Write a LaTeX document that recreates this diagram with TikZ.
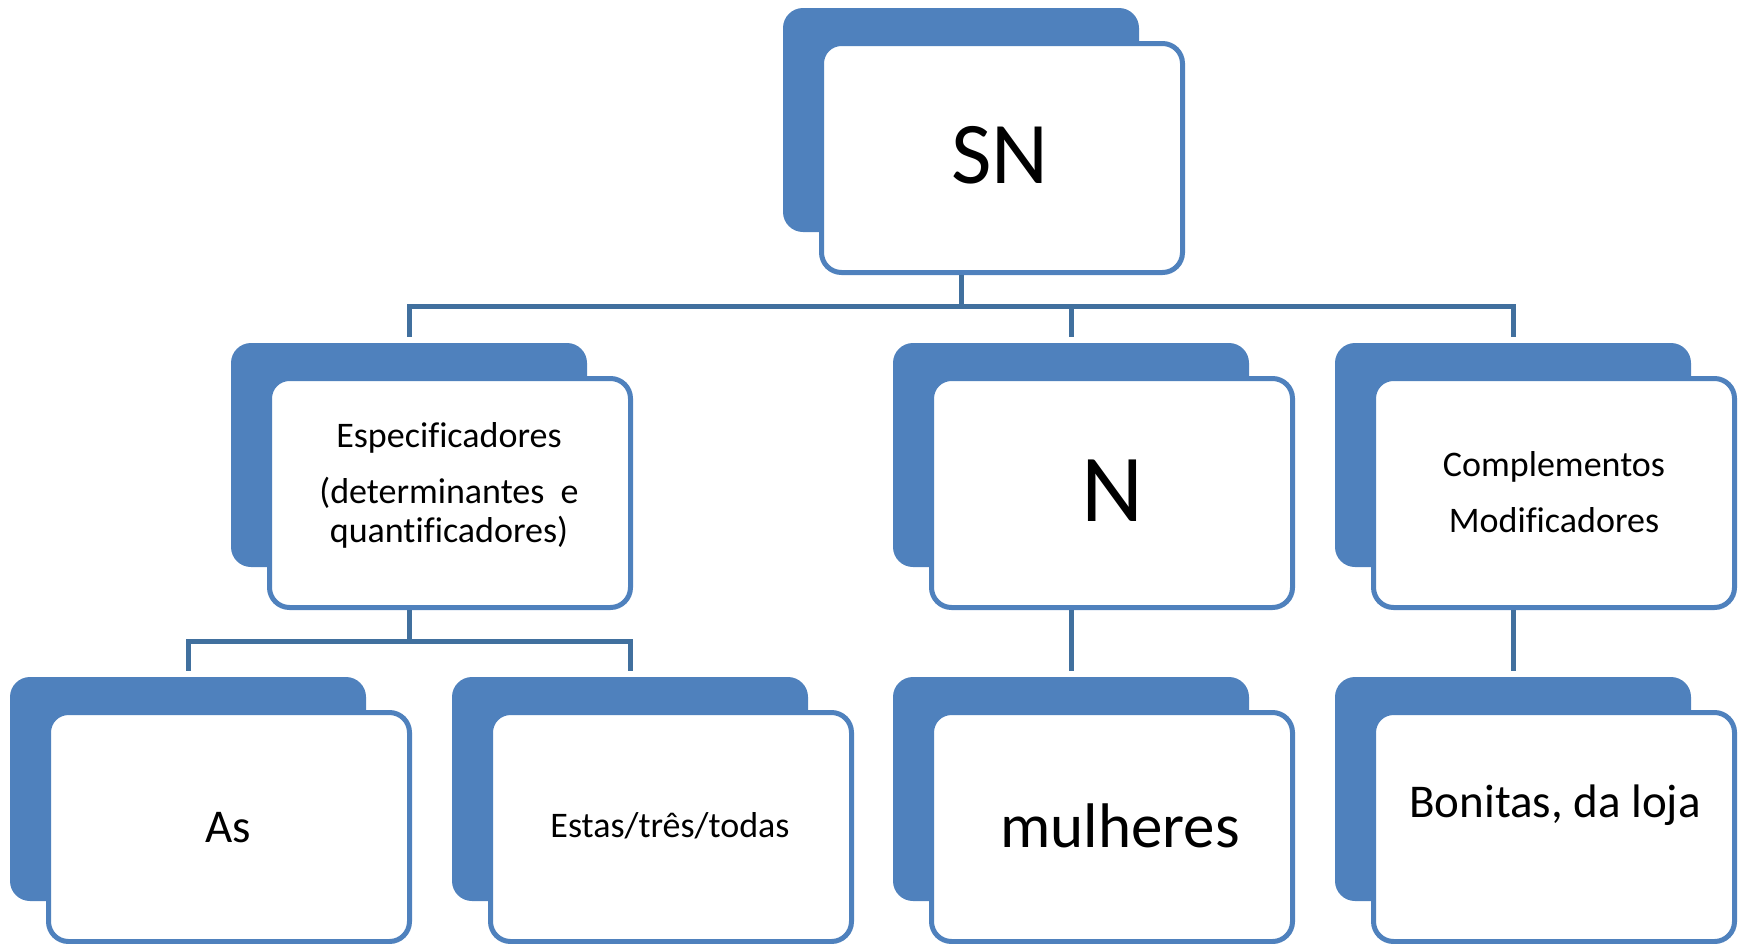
\documentclass[tikz,border=0pt]{standalone}
\usepackage{fontspec}
\setmainfont{Carlito}[Ligatures=CommonOff]
\definecolor{boxblue}{HTML}{4F81BD}
\definecolor{linkblue}{HTML}{41709E}
\begin{document}
\begin{tikzpicture}[x=1pt,y=-1pt,
  backbox/.style={fill=boxblue, draw=none, rounded corners=20pt, minimum width=356pt, minimum height=224pt, inner sep=0pt},
  frontbox/.style={fill=white, draw=boxblue, line width=5pt, rounded corners=20pt, minimum width=361pt, minimum height=229pt, inner sep=0pt},
  conn/.style={draw=linkblue, line width=5pt},
  lbl/.style={anchor=base, inner sep=0pt, text=black},
  fsmall/.style={font=\fontsize{36}{40}\selectfont}]
\useasboundingbox (0,0) rectangle (1746,943);
% row 1
\node[backbox] (snb) at (961,120) {};
\node[frontbox] (snf) at (1002,158) {};
% row 2
\node[backbox] (especb) at (409,455) {};
\node[frontbox] (especf) at (450,493) {};
\node[backbox] (nb) at (1071,455) {};
\node[frontbox] (nf) at (1112,493) {};
\node[backbox] (compb) at (1513,455) {};
\node[frontbox] (compf) at (1554,493) {};
% row 3
\node[backbox] (asb) at (188,789) {};
\node[frontbox] (asf) at (229,827) {};
\node[backbox] (estasb) at (630,789) {};
\node[frontbox] (estasf) at (671,827) {};
\node[backbox] (mulb) at (1071,789) {};
\node[frontbox] (mulf) at (1112,827) {};
\node[backbox] (bonb) at (1513,789) {};
\node[frontbox] (bonf) at (1554,827) {};
% texts
\node[lbl, font=\fontsize{88}{88}\selectfont] (snt) at (1000,183) {SN};
\node[lbl, fsmall] (espect1) at (449,447) {Especificadores};
\node[lbl, fsmall] (espect2) at (449,503) {(determinantes\ \ e};
\node[lbl, fsmall] (espect3) at (449,542) {quantificadores)};
\node[lbl, font=\fontsize{96}{96}\selectfont] (nt) at (1112,521) {N};
\node[lbl, fsmall] (compt1) at (1554,476) {Complementos};
\node[lbl, fsmall] (compt2) at (1554,532) {Modificadores};
\node[lbl, font=\fontsize{47}{47}\selectfont] (ast) at (228,842) {As};
\node[lbl, fsmall] (estast) at (670,837) {Estas/três/todas};
\node[lbl, font=\fontsize{63}{63}\selectfont] (mult) at (1120,847) {mulheres};
\node[lbl, font=\fontsize{47}{47}\selectfont] (bont) at (1555,817) {Bonitas, da loja};
% connectors
\coordinate (h1) at (0,306);
\coordinate (h2) at (0,641);
\draw[conn] ([yshift=6pt]especb.north) -- (especb.north |- h1) -- (compb.north |- h1) -- ([yshift=6pt]compb.north);
\draw[conn] (snb.center |- snf.south) -- (snb.center |- h1);
\draw[conn] (nb.center |- h1) -- ([yshift=6pt]nb.north);
\draw[conn] ([yshift=6pt]asb.north) -- (asb.north |- h2) -- (estasb.north |- h2) -- ([yshift=6pt]estasb.north);
\draw[conn] (especb.center |- especf.south) -- (especb.center |- h2);
\draw[conn] (nb.center |- nf.south) -- ([yshift=6pt]mulb.north);
\draw[conn] (compb.center |- compf.south) -- ([yshift=6pt]bonb.north);
\end{tikzpicture}
\end{document}
